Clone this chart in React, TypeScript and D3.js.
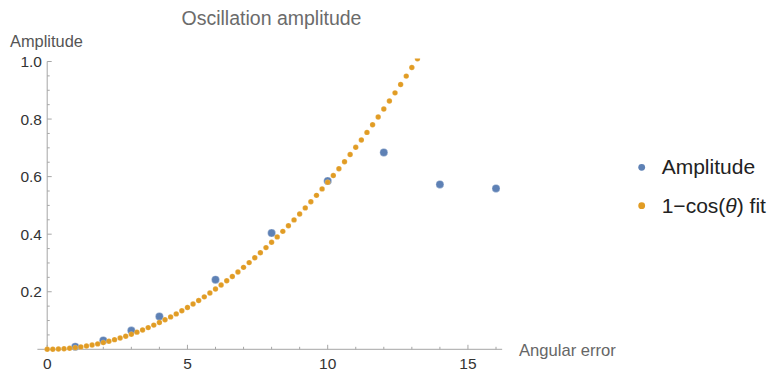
import React from "react";
import * as d3 from "d3";

// Measured oscillation amplitude against angular error
const errorAngles = [1, 2, 3, 4, 6, 8, 10, 12, 14, 16];
const amplitudes = [0.009, 0.031, 0.065, 0.114, 0.242, 0.404, 0.585, 0.684, 0.573, 0.559];

// Fitted 1−cos(θ) curve, sampled every 0.2
const fitAngles = [
  0, 0.2, 0.4, 0.6, 0.8, 1.0, 1.2, 1.4, 1.6, 1.8, 2.0, 2.2, 2.4, 2.6, 2.8, 3.0, 3.2, 3.4, 3.6, 3.8,
  4.0, 4.2, 4.4, 4.6, 4.8, 5.0, 5.2, 5.4, 5.6, 5.8, 6.0, 6.2, 6.4, 6.6, 6.8, 7.0, 7.2, 7.4, 7.6, 7.8,
  8.0, 8.2, 8.4, 8.6, 8.8, 9.0, 9.2, 9.4, 9.6, 9.8, 10.0, 10.2, 10.4, 10.6, 10.8, 11.0, 11.2, 11.4,
  11.6, 11.8, 12.0, 12.2, 12.4, 12.6, 12.8, 13.0, 13.2,
];
const fitValues = [
  0, 0.0002, 0.0009, 0.0021, 0.0037, 0.0058, 0.0084, 0.0114, 0.0149, 0.0188, 0.0233, 0.0282, 0.0335,
  0.0393, 0.0456, 0.0524, 0.0596, 0.0672, 0.0754, 0.084, 0.0931, 0.1026, 0.1126, 0.123, 0.134, 0.1454,
  0.1572, 0.1695, 0.1823, 0.1956, 0.2093, 0.2234, 0.2381, 0.2532, 0.2687, 0.2847, 0.3012, 0.3182,
  0.3356, 0.3534, 0.3718, 0.3905, 0.4098, 0.4295, 0.4497, 0.4703, 0.4914, 0.5129, 0.535, 0.5574,
  0.5803, 0.6037, 0.6276, 0.6519, 0.6766, 0.7018, 0.7275, 0.7536, 0.7802, 0.8073, 0.8348, 0.8627,
  0.8911, 0.92, 0.9493, 0.9791, 1.0093,
];

const xMajorTicks = [0, 5, 10, 15];
const xMinorTicks = [1, 2, 3, 4, 6, 7, 8, 9, 11, 12, 13, 14, 16];
const yMajorTicks = [0.2, 0.4, 0.6, 0.8, 1.0];
const yMinorTicks = [0.05, 0.1, 0.15, 0.25, 0.3, 0.35, 0.45, 0.5, 0.55, 0.65, 0.7, 0.75, 0.85, 0.9, 0.95];

const seriesNames = ["Amplitude", "fit"];
const BLUE = "#5e81b5";
const ORANGE = "#e19c24";
const AXIS = "#a6a6a6";
const FONT = "'Liberation Sans', Arial, sans-serif";

const W = 778;
const H = 373;

export default function App() {
  const x = d3.scaleLinear().domain([0, 16]).range([47.2, 47.2 + 16 * 28.05]);
  const y = d3.scaleLinear().domain([0, 1]).range([349.3, 61.5]);
  const x0 = x(0);
  const y0 = y(0);

  return (
    <svg
      width={W}
      height={H}
      style={{ position: "absolute", left: 0, top: 0, background: "#fff" }}
      fontFamily={FONT}
    >
      <defs>
        <clipPath id="plotClip">
          <rect x={x(-0.6)} y={y(1) - 3} width={x(16.6) - x(-0.6)} height={y0 - y(1) + 20} />
        </clipPath>
      </defs>

      {/* title */}
      <text x={271.5} y={25} textAnchor="middle" fontSize={19.5} fill="#6b6b6b">
        Oscillation amplitude
      </text>

      {/* axis labels */}
      <text x={10} y={46.5} fontSize={16.4} fill="#555">
        Amplitude
      </text>
      <text x={519} y={356} fontSize={16.6} fill="#666">
        Angular error
      </text>

      {/* x axis */}
      <line x1={x(-0.35)} x2={x(16.22)} y1={y0} y2={y0} stroke={AXIS} strokeWidth={1} />
      {xMajorTicks.map((t) => (
        <g key={`xM${t}`}>
          <line x1={x(t)} x2={x(t)} y1={y0} y2={y0 - 4.5} stroke={AXIS} />
          <text x={x(t)} y={369} textAnchor="middle" fontSize={15.5} fill="#333">
            {t}
          </text>
        </g>
      ))}
      {xMinorTicks.map((t) => (
        <line key={`xm${t}`} x1={x(t)} x2={x(t)} y1={y0} y2={y0 - 2.5} stroke={AXIS} />
      ))}

      {/* y axis */}
      <line x1={x0} x2={x0} y1={y0} y2={y(1)} stroke={AXIS} strokeWidth={1} />
      {yMajorTicks.map((t) => (
        <g key={`yM${t}`}>
          <line x1={x0} x2={x0 + 4.5} y1={y(t)} y2={y(t)} stroke={AXIS} />
          <text
            x={42}
            y={y(t)}
            dy="0.36em"
            textAnchor="end"
            fontSize={15.5}
            fill="#333"
          >
            {d3.format(".1f")(t)}
          </text>
        </g>
      ))}
      {yMinorTicks.map((t) => (
        <line key={`ym${t}`} x1={x0} x2={x0 + 2.5} y1={y(t)} y2={y(t)} stroke={AXIS} />
      ))}

      <g clipPath="url(#plotClip)">
        {/* measured amplitudes */}
        {errorAngles.map((a, i) => (
          <circle
            key={`a${i}`}
            cx={x(a)}
            cy={y(amplitudes[i])}
            r={4}
            fill={BLUE}
            stroke="#fff"
            strokeOpacity={0.5}
            strokeWidth={0.6}
          />
        ))}
        {/* fitted curve */}
        {fitAngles.map((a, i) => (
          <circle
            key={`f${i}`}
            cx={x(a)}
            cy={y(fitValues[i])}
            r={2.7}
            fill={ORANGE}
            stroke="#fff"
            strokeOpacity={0.4}
            strokeWidth={0.4}
          />
        ))}
      </g>

      {/* legend */}
      <g>
        <circle cx={641.7} cy={167.3} r={3.4} fill={BLUE} />
        <text x={661.7} y={174} fontSize={21} fill="#222">
          {seriesNames[0]}
        </text>
        <circle cx={641.7} cy={205.7} r={3.4} fill={ORANGE} />
        <text x={661.7} y={212.5} fontSize={21} fill="#222">
          1−cos(<tspan fontStyle="italic">θ</tspan>) {seriesNames[1]}
        </text>
      </g>
    </svg>
  );
}
